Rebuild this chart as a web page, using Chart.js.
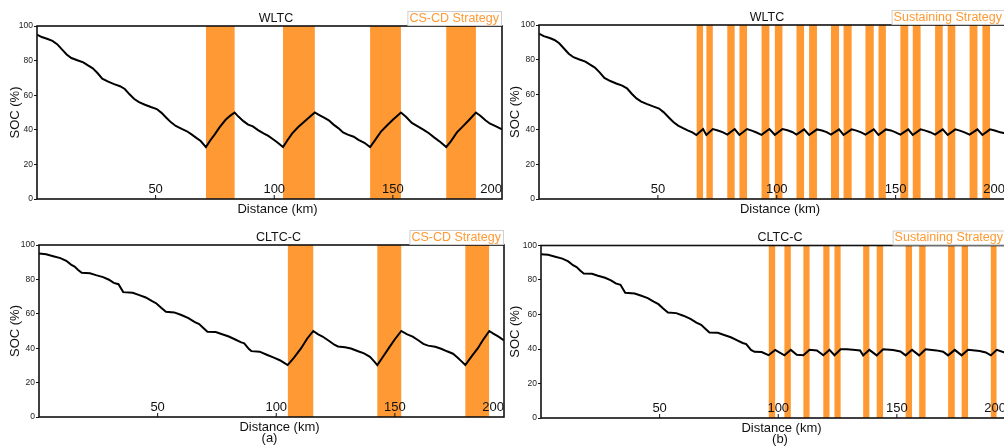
<!DOCTYPE html>
<html>
<head>
<meta charset="utf-8">
<title>SOC vs distance — CS-CD and sustaining strategies</title>
<script src="https://cdn.jsdelivr.net/npm/chart.js@4.4.1/dist/chart.umd.min.js"></script>
<style>
  html, body { margin: 0; padding: 0; background: #fff; overflow: hidden; width: 1004px; height: 446px; }
  canvas { position: absolute; }
</style>
</head>
<body>
<canvas id="wltcCsCd" width="510" height="222" style="left:0;top:0"></canvas>
<canvas id="wltcSust" width="515" height="222" style="left:500px;top:0"></canvas>
<canvas id="cltcCsCd" width="510" height="224" style="left:0;top:222px"></canvas>
<canvas id="cltcSust" width="515" height="224" style="left:500px;top:222px"></canvas>
<script>
// ---- axis ticks ----
const xTickKm = [50, 100, 150, 200];
const yTickStep = 20;

// ---- WLTC: common depletion phase from full charge ----
const wltcDepletionKm  = [0, 2, 4.5, 6.5, 8.5, 10.5, 12.5, 14.5, 17, 19.5, 21.5, 23.5, 25.5, 27.5, 30, 32.5, 35, 37, 39, 41, 43, 45.5, 48, 50.5, 52.5, 54.5, 56.5, 58.5, 61];
const wltcDepletionSoc = [95, 93.6, 92.5, 91.4, 89.5, 86.5, 83.5, 81.5, 80.2, 79, 77.2, 75.5, 72.8, 69.6, 67.8, 66.4, 65.2, 63.6, 60.5, 57.8, 56, 54.5, 53.2, 52, 49.8, 47, 44.3, 42.2, 40.5];

// WLTC, CS-CD strategy (after depletion)
const wltcCsCdKm  = [63, 65, 67, 69, 71.2, 73, 75, 77, 79.5, 81.5, 83.3, 85, 87, 89, 91, 93, 95.5, 97.5, 99.5, 101.5, 103.7, 105.5, 107.5, 110, 112.5, 115, 117.1, 119, 121, 123, 125, 127, 129, 131, 133.5, 135.5, 138, 140.4, 142.5, 145, 147.5, 150, 153.4, 155.5, 158, 160.5, 163, 165.2, 167.5, 170, 172.5, 174.5, 177, 179.5, 182, 185, 187, 189, 191, 193.5, 196];
const wltcCsCdSoc = [39.3, 37.5, 35.5, 33.5, 30, 33.8, 37.5, 41.5, 45.8, 48.2, 50, 47.5, 45, 43, 42, 40, 38, 36.5, 34.5, 32.5, 30, 33.8, 37.8, 41.5, 44.5, 47.5, 50, 48.5, 47, 45.5, 43, 41, 38.5, 37.2, 36, 34.2, 32.5, 30, 34, 39, 42.5, 45.8, 50, 47.5, 44, 42, 40, 38, 35.5, 33, 30, 33.5, 38.5, 42, 45.5, 50, 48, 45.5, 43.5, 42, 40.3];
const wltcCsCdCharging = [[71.2, 83.3], [103.7, 117.1], [140.4, 153.4], [172.5, 185]];

// WLTC, sustaining strategy (after depletion)
const wltcSustKm  = [62.5, 64.5, 66.2, 69, 70.4, 73.1, 75.2, 77.2, 79.2, 82.3, 84.3, 87.5, 89.5, 91.5, 93.6, 96.9, 99.2, 102.4, 104.5, 106.5, 108.3, 111.5, 113.6, 116.9, 119, 121, 122.8, 126.2, 128.1, 131.5, 133.5, 135.5, 137.3, 140.8, 142.8, 145.9, 148, 150, 152, 155.3, 157.2, 160.5, 162.5, 164.5, 166.6, 169.8, 171.9, 175.1, 177, 179, 181.1, 184.4, 186.5, 189.7, 192, 194, 196];
const wltcSustSoc = [39.4, 38.3, 36.8, 40.2, 36.8, 40.2, 39.4, 38.4, 37, 40.2, 36.8, 40.2, 39.3, 38.2, 36.9, 40.2, 36.9, 40.2, 39.5, 38.5, 37, 40, 36.8, 40, 39.4, 38.4, 37, 40, 36.8, 40, 39.3, 38.3, 37, 40, 36.8, 40, 39.4, 38.3, 37, 40, 36.8, 40, 39.3, 38.4, 37, 40, 36.8, 40, 39.3, 38.3, 37, 40, 36.8, 40, 39.2, 38.3, 37.8];
const wltcSustCharging = [[66.2, 69.0], [70.4, 73.1], [79.2, 82.3], [84.3, 87.5], [93.6, 96.9], [99.2, 102.4], [108.3, 111.5], [113.6, 116.9], [122.8, 126.2], [128.1, 131.5], [137.3, 140.8], [142.8, 145.9], [152.0, 155.3], [157.2, 160.5], [166.6, 169.8], [171.9, 175.1], [181.1, 184.4], [186.5, 189.7]];

// ---- CLTC-C: common depletion phase from full charge ----
const cltcDepletionKm  = [0, 3, 6, 9, 11.5, 13.5, 15, 16.5, 18, 21.5, 24, 27, 29.5, 31.5, 33.5, 35.5, 39.5, 42, 45, 47.5, 49.5, 51.5, 53.5, 57, 60, 63, 65.5, 67.5, 69.5, 71, 74.5, 77.5, 80, 82.5, 85, 86.5, 88.5];
const cltcDepletionSoc = [95, 94.6, 93.5, 92.4, 90.8, 88.6, 87.5, 85.5, 83.8, 83.6, 82.5, 81.3, 79.8, 78, 77.2, 72.6, 72.2, 71, 69.5, 67.5, 66, 63.5, 61.2, 60.8, 59.3, 57.5, 55.3, 54, 51.5, 49.6, 49.4, 48, 46.8, 45.2, 43.5, 42.8, 39.5];

// CLTC-C, CS-CD strategy (after depletion)
const cltcCsCdKm  = [89.5, 93, 96, 99, 101.5, 103, 104.8, 107.5, 110.5, 113, 115.6, 117.5, 119.5, 122, 124.5, 126, 129, 131.5, 134.5, 137, 139.5, 141, 142.6, 145, 147.5, 150, 152.7, 155, 157.5, 160, 162, 164, 167, 169.5, 172, 174.5, 176.5, 178, 179.7, 182.5, 185, 187, 189.8, 191.5, 193.7, 196];
const cltcCsCdSoc = [38.3, 38, 36.2, 34.5, 33, 31.8, 30.2, 34.5, 40, 45.5, 50, 48.2, 46.8, 44.5, 42, 41, 40.6, 39.8, 38.2, 37, 35, 32.8, 30.2, 35, 40.2, 45.2, 50, 48.2, 46.7, 44.5, 42.5, 41.5, 40.8, 39.7, 38.2, 36.8, 34.5, 32.5, 30.2, 35.5, 40, 44.5, 50, 48.5, 46.7, 44.5];
const cltcCsCdCharging = [[104.8, 115.6], [142.6, 152.7], [179.7, 189.8]];

// CLTC-C, sustaining strategy (after depletion)
const cltcSustKm  = [90, 93, 95.9, 98.7, 102.6, 105.3, 107.8, 110.6, 113.2, 116.3, 119.0, 121.6, 123.7, 126.3, 128.9, 131.5, 134.5, 135.8, 138.4, 141.5, 144.2, 148.4, 151.5, 153.7, 156.4, 159.4, 162.1, 166.7, 169.5, 171.6, 174.4, 177.3, 180.0, 184.9, 187.5, 189.6, 192.1, 196];
const cltcSustSoc = [38.4, 38.2, 36.4, 39.5, 36.3, 39.5, 36.6, 36.4, 39.5, 39.2, 36.4, 39.5, 36.4, 39.8, 39.8, 39.6, 39.2, 36.3, 39.5, 36.3, 39.8, 39.4, 38.6, 36.3, 39.5, 36.3, 39.8, 39.2, 38.4, 36.3, 39.5, 36.3, 39.5, 38.8, 38, 36.3, 39.5, 37.6];
const cltcSustCharging = [[95.9, 98.7], [102.6, 105.3], [110.6, 113.2], [119.0, 121.6], [123.7, 126.3], [135.8, 138.4], [141.5, 144.2], [153.7, 156.4], [159.4, 162.1], [171.6, 174.4], [177.3, 180.0], [189.6, 192.1]];

// ---- styling ----
const ORANGE = '#FF9933';
const INK = '#111';
const FONT = 'Arial, "Liberation Sans", Helvetica, sans-serif';

function toPoints(km, soc) {
  return km.map((k, i) => ({ x: k, y: soc[i] }));
}

// Charging windows as a single outline filled down to SOC 0
function chargingOutline(windows) {
  const pts = [];
  for (const [s, e] of windows) {
    pts.push({ x: s, y: 0 }, { x: s, y: 100 }, { x: e, y: 100 }, { x: e, y: 0 });
  }
  return pts;
}

// Frame, inner x ticks, panel title, strategy tag and x-axis caption
function decorPlugin(cfg) {
  return {
    id: 'panelDecor',
    afterDatasetsDraw(chart) {
      const { ctx, chartArea: a, scales: { x } } = chart;
      const cx = (a.left + a.right) / 2;
      ctx.save();

      ctx.strokeStyle = INK;
      ctx.lineWidth = 1.6;
      ctx.strokeRect(a.left, a.top, a.right - a.left, a.bottom - a.top);

      ctx.font = `13px ${FONT}`;
      ctx.fillStyle = INK;
      ctx.textAlign = 'center';
      ctx.textBaseline = 'middle';
      ctx.lineWidth = 1;
      for (const v of xTickKm) {
        const px = x.getPixelForValue(v);
        if (px <= a.right) {
          ctx.beginPath();
          ctx.moveTo(px, a.bottom);
          ctx.lineTo(px, a.bottom - 4);
          ctx.stroke();
        }
        const label = String(v);
        const w = ctx.measureText(label).width;
        ctx.fillText(label, Math.min(px, a.right - w / 2), a.bottom - 10);
      }

      ctx.fillText('Distance (km)', cx + 8, a.bottom + 10);
      if (cfg.sub) ctx.fillText(cfg.sub, cx + cfg.subDx, a.bottom + 21);

      ctx.font = `12.5px ${FONT}`;
      ctx.fillText(cfg.title, cx + cfg.titleDx, a.top - 7.5);

      const tw = ctx.measureText(cfg.strategy).width;
      const bw = tw + 4, bh = 14;
      const bx = a.right - 1 - bw, by = a.top - 1 - bh;
      ctx.fillStyle = '#fff';
      ctx.fillRect(bx, by, bw, bh);
      ctx.strokeStyle = '#cfcfcf';
      ctx.lineWidth = 1;
      ctx.strokeRect(bx + 0.5, by + 0.5, bw, bh);
      ctx.fillStyle = ORANGE;
      ctx.textAlign = 'left';
      ctx.fillText(cfg.strategy, bx + 2, by + bh / 2 + 0.5);

      ctx.restore();
    }
  };
}

function makePanel(id, cfg) {
  new Chart(document.getElementById(id), {
    type: 'line',
    data: {
      datasets: [
        {
          label: 'SOC',
          data: toPoints(cfg.km, cfg.soc),
          borderColor: '#000',
          borderWidth: 2,
          pointRadius: 0,
          tension: 0,
          fill: false,
          order: 0
        },
        {
          label: 'Charging',
          data: chargingOutline(cfg.charging),
          borderColor: 'rgba(0,0,0,0)',
          borderWidth: 0,
          backgroundColor: ORANGE,
          pointRadius: 0,
          tension: 0,
          fill: 'origin',
          order: 1
        }
      ]
    },
    options: {
      responsive: false,
      animation: false,
      devicePixelRatio: 1,
      events: [],
      layout: { padding: { top: cfg.padTop, right: cfg.padRight, left: 0, bottom: 0 } },
      plugins: { legend: { display: false }, tooltip: { enabled: false }, title: { display: false } },
      scales: {
        x: {
          type: 'linear',
          min: 0,
          max: 196,
          ticks: { display: false },
          grid: { display: false },
          border: { display: false },
          afterFit(scale) { scale.height = cfg.xHeight; }
        },
        y: {
          type: 'linear',
          min: 0,
          max: 100,
          ticks: { stepSize: yTickStep, color: '#222', padding: 1, font: { size: 8.5, family: FONT } },
          grid: { drawOnChartArea: false, tickLength: 3, color: INK, tickWidth: 1 },
          border: { display: false },
          title: { display: true, text: 'SOC (%)', color: INK, font: { size: 13, family: FONT }, padding: { top: 8, bottom: 0 } },
          afterFit(scale) { scale.width = cfg.yWidth; }
        }
      }
    },
    plugins: [decorPlugin(cfg)]
  });
}

makePanel('wltcCsCd', {
  km: wltcDepletionKm.concat(wltcCsCdKm),
  soc: wltcDepletionSoc.concat(wltcCsCdSoc),
  charging: wltcCsCdCharging,
  title: 'WLTC', titleDx: 6.5, strategy: 'CS-CD Strategy',
  padTop: 26, padRight: 8, yWidth: 37, xHeight: 23
});
makePanel('wltcSust', {
  km: wltcDepletionKm.concat(wltcSustKm),
  soc: wltcDepletionSoc.concat(wltcSustSoc),
  charging: wltcSustCharging,
  title: 'WLTC', titleDx: -5, strategy: 'Sustaining Strategy',
  padTop: 25, padRight: 10, yWidth: 39, xHeight: 23
});
makePanel('cltcCsCd', {
  km: cltcDepletionKm.concat(cltcCsCdKm),
  soc: cltcDepletionSoc.concat(cltcCsCdSoc),
  charging: cltcCsCdCharging,
  title: 'CLTC-C', titleDx: 7, strategy: 'CS-CD Strategy', sub: '(a)', subDx: -2,
  padTop: 23, padRight: 6, yWidth: 39, xHeight: 29
});
makePanel('cltcSust', {
  km: cltcDepletionKm.concat(cltcSustKm),
  soc: cltcDepletionSoc.concat(cltcSustSoc),
  charging: cltcSustCharging,
  title: 'CLTC-C', titleDx: 6.5, strategy: 'Sustaining Strategy', sub: '(b)', subDx: 6.5,
  padTop: 23.5, padRight: 9, yWidth: 41, xHeight: 28
});
</script>
</body>
</html>
